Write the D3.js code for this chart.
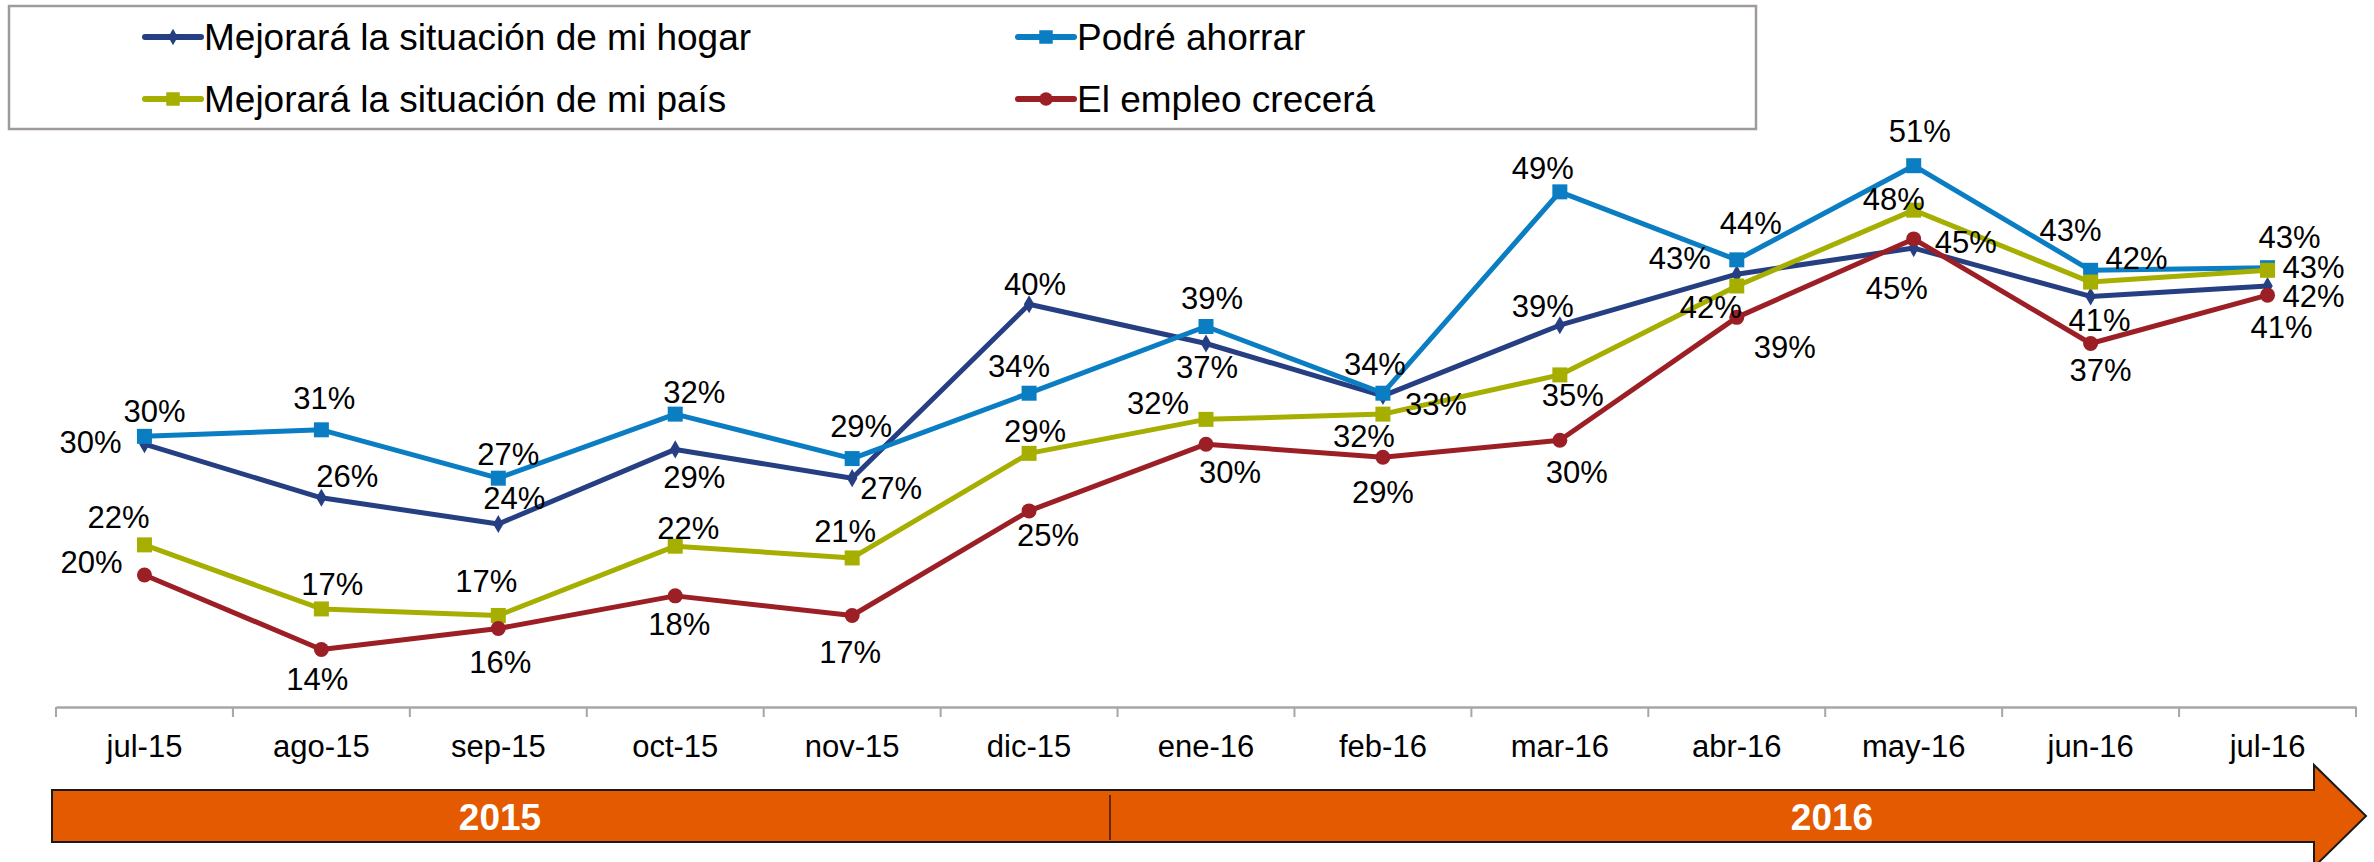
<!DOCTYPE html>
<html>
<head>
<meta charset="utf-8">
<script src="https://cdn.jsdelivr.net/npm/d3@7"></script>
<style>
  html, body { margin: 0; padding: 0; background: #fff; }
  svg { display: block; font-family: "Liberation Sans", Arial, sans-serif; }
</style>
</head>
<body>
<svg id="chart" width="2374" height="862"></svg>
<script>
// Meses del eje X
const months = ["jul-15", "ago-15", "sep-15", "oct-15", "nov-15", "dic-15", "ene-16",
                "feb-16", "mar-16", "abr-16", "may-16", "jun-16", "jul-16"]

// Valores (%)
const hogar   = [29.7, 25.6, 23.6, 29.3, 27.1, 40.4, 37.4, 33.4, 38.8, 42.7, 44.7, 41.0, 41.8]
const ahorrar = [30.3, 30.8, 27.1, 32.0, 28.6, 33.6, 38.7, 33.6, 49.0, 43.8, 51.0, 43.0, 43.2]
const pais    = [22.0, 17.1, 16.6, 21.9, 21.0, 29.0, 31.6, 32.0, 35.0, 41.8, 47.6, 42.1, 43.0]
const empleo  = [19.7, 14.0, 15.6, 18.1, 16.6, 24.6, 29.7, 28.7, 30.0, 39.4, 45.4, 37.4, 41.1]

const years = ["2015", "2016"]

// Desplazamiento de cada etiqueta respecto a su punto (colocación manual, como en Excel)
const offHogar   = [[-54,-2],[26,-21],[16,-25],[19,28],[39,10],[6,-20],[1,24],[53,9],[-17,-19],[-57,-16],[52,-6],[9,24],[46,11]]
const offAhorrar = [[10,-25],[3,-31],[10,-24],[19,-22],[9,-32],[-10,-27],[6,-28],[-8,-29],[-17,-23],[14,-36],[6,-34],[-20,-40],[22,-30]]
const offPais    = [[-26,-27],[11,-24],[-12,-34],[13,-18],[-7,-26],[6,-22],[-48,-16],[-19,22],[13,21],[-26,22],[-20,-11],[46,-24],[46,-3]]
const offEmpleo  = [[-53,-12],[-4,30],[2,34],[4,29],[-2,37],[19,25],[24,28],[0,35],[17,32],[48,30],[-17,50],[10,27],[14,32]]

const series = [
  { name: "Mejorará la situación de mi hogar", values: hogar,   off: offHogar,   color: "#263f82", shape: "diamond" },
  { name: "Podré ahorrar",                     values: ahorrar, off: offAhorrar, color: "#0a7dc3", shape: "square" },
  { name: "Mejorará la situación de mi país",  values: pais,    off: offPais,    color: "#a6ae00", shape: "square" },
  { name: "El empleo crecerá",                 values: empleo,  off: offEmpleo,  color: "#9c1f25", shape: "circle" }
]

const svg = d3.select("#chart")

// ── Escalas ────────────────────────────────────────────
const x = d3.scaleBand().domain(months).range([56, 2356]).padding(0)
const y = d3.scaleLinear().domain([9.6, 51]).range([707, 165.7])
const cx = m => x(m) + x.bandwidth() / 2

// ── Eje X ──────────────────────────────────────────────
const axis = svg.append("g").attr("transform", "translate(0,707)")
  .call(d3.axisBottom(x).tickSize(0).tickPadding(28))
axis.select(".domain").attr("stroke", "#a6a6a6").attr("stroke-width", 2.5)
axis.selectAll(".tick text")
  .attr("font-size", 31).attr("fill", "#000")
  .attr("font-family", "'Liberation Sans', Arial, sans-serif")

// marcas entre categorías
const bounds = months.map(m => x(m)).concat([x.range()[1]])
svg.append("g").selectAll("line").data(bounds).join("line")
  .attr("x1", d => d).attr("x2", d => d)
  .attr("y1", 707).attr("y2", 717)
  .attr("stroke", "#a6a6a6").attr("stroke-width", 2)

// ── Marcadores ─────────────────────────────────────────
function marker(sel, shape, color, scale = 1) {
  if (shape === "circle") {
    sel.append("circle").attr("r", 7.5 * scale).attr("fill", color)
  } else {
    const t = shape === "diamond" ? d3.symbolDiamond : d3.symbolSquare
    const s = shape === "diamond" ? 95 : 225
    sel.append("path").attr("d", d3.symbol().type(t).size(s * scale * scale)()).attr("fill", color)
  }
}

const line = d3.line().x(d => cx(d.m)).y(d => y(d.v))

series.forEach(s => {
  const pts = months.map((m, i) => ({ m, v: s.values[i] }))
  const g = svg.append("g")
  g.append("path").datum(pts)
    .attr("d", line).attr("fill", "none")
    .attr("stroke", s.color).attr("stroke-width", 5)
    .attr("stroke-linejoin", "round")
  g.selectAll("g.pt").data(pts).join("g").attr("class", "pt")
    .attr("transform", d => `translate(${cx(d.m)},${y(d.v)})`)
    .each(function () { marker(d3.select(this), s.shape, s.color) })
})

// ── Etiquetas de datos ─────────────────────────────────
series.forEach(s => {
  svg.append("g").selectAll("text")
    .data(months.map((m, i) => ({ m, v: s.values[i], o: s.off[i] })))
    .join("text")
    .attr("x", d => cx(d.m) + d.o[0])
    .attr("y", d => y(d.v) + d.o[1])
    .attr("text-anchor", "middle")
    .attr("dominant-baseline", "central")
    .attr("font-size", 31).attr("fill", "#000")
    .text(d => Math.round(d.v) + "%")
})

// ── Leyenda ────────────────────────────────────────────
svg.append("rect")
  .attr("x", 9).attr("y", 6).attr("width", 1747).attr("height", 123)
  .attr("fill", "#fff").attr("stroke", "#a09a9a").attr("stroke-width", 2.5)

const legendPos = [[145, 37], [1018, 37], [145, 99], [1018, 99]]
series.forEach((s, i) => {
  const [lx, ly] = legendPos[i]
  const g = svg.append("g").attr("transform", `translate(${lx},${ly})`)
  g.append("line").attr("x1", 0).attr("x2", 56).attr("y1", 0).attr("y2", 0)
    .attr("stroke", s.color).attr("stroke-width", 6).attr("stroke-linecap", "round")
  const mg = g.append("g").attr("transform", "translate(28,0)")
  marker(mg, s.shape, s.color, 0.9)
  g.append("text").attr("x", 59).attr("y", 0)
    .attr("dominant-baseline", "central")
    .attr("font-size", 37).attr("fill", "#000")
    .text(s.name)
})

// ── Flecha de años ─────────────────────────────────────
const arrow = [[52, 790], [2314, 790], [2314, 765], [2366, 816], [2314, 867], [2314, 842], [52, 842]]
svg.append("path")
  .attr("d", d3.line()(arrow) + "Z")
  .attr("fill", "#e35a00").attr("stroke", "#1a1a1a").attr("stroke-width", 2)
svg.append("line")
  .attr("x1", 1110).attr("x2", 1110).attr("y1", 795).attr("y2", 840)
  .attr("stroke", "#3a1a00").attr("stroke-width", 1.5)

const yearX = [500, 1832]
svg.append("g").selectAll("text").data(years).join("text")
  .attr("x", (d, i) => yearX[i]).attr("y", 817)
  .attr("text-anchor", "middle").attr("dominant-baseline", "central")
  .attr("font-size", 37).attr("font-weight", "bold").attr("fill", "#fff")
  .text(d => d)
</script>
</body>
</html>
